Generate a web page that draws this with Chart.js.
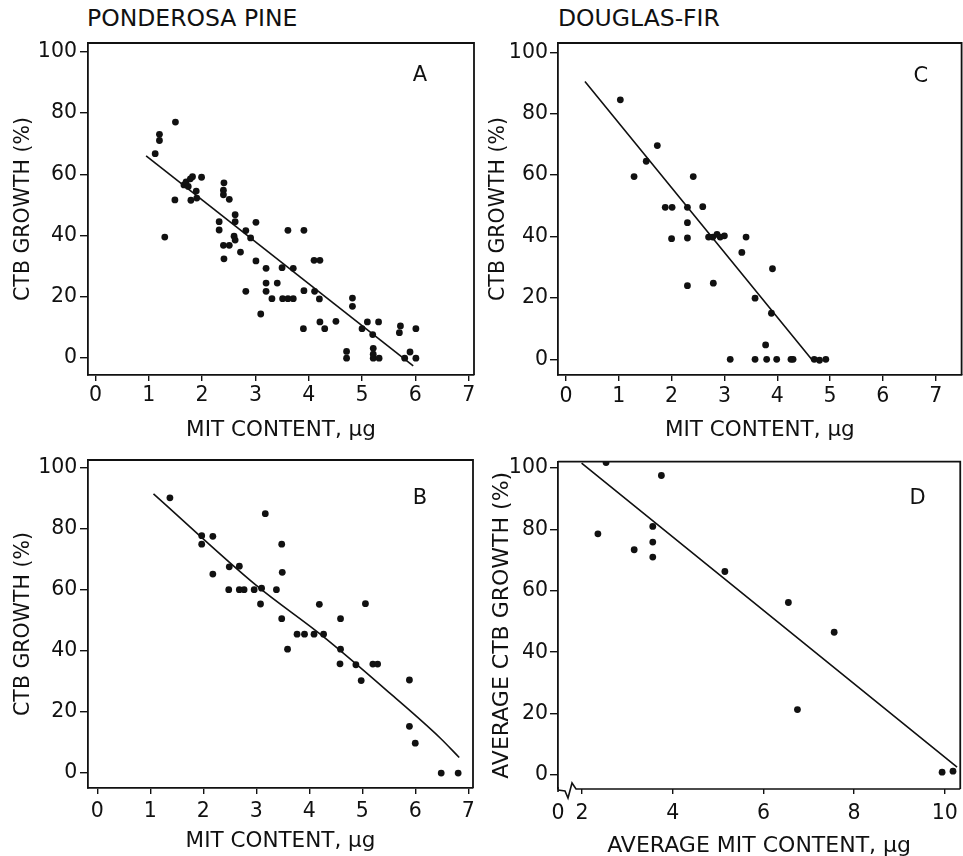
<!DOCTYPE html>
<html><head><meta charset="utf-8">
<script src="https://cdn.jsdelivr.net/npm/chart.js@4.4.1/dist/chart.umd.min.js"></script>
<style>
html,body{margin:0;padding:0;background:#fff;overflow:hidden;width:963px;height:856px;}
canvas{position:absolute;}
.ttl{position:absolute;font-family:"DejaVu Sans",sans-serif;font-size:23.5px;color:#111;line-height:1;white-space:nowrap;}
</style></head><body>
<div class="ttl" style="left:87px;top:7px;">PONDEROSA PINE</div>
<div class="ttl" style="left:558px;top:7px;">DOUGLAS-FIR</div>
<canvas id="cA" width="490" height="450" style="left:0;top:0"></canvas>
<canvas id="cC" width="495" height="450" style="left:470px;top:0"></canvas>
<canvas id="cB" width="490" height="436" style="left:0;top:420px"></canvas>
<canvas id="cD" width="495" height="436" style="left:470px;top:420px"></canvas>
<script>
// ---- data ----
const yTicks = [0, 20, 40, 60, 80, 100];
const xTicks07 = [0, 1, 2, 3, 4, 5, 6, 7];
const xTicksD = [2, 4, 6, 8, 10];
const breakLabelD = '0';

const xA = [1.12,1.2,1.2,1.5,1.3,1.49,1.66,1.70,1.74,1.78,1.82,1.79,1.89,1.9,1.99,2.32,2.32,2.41,2.4,2.4,2.51,2.4,2.41,2.51,2.62,2.62,2.6,2.62,2.72,2.82,2.91,2.82,3.01,3.01,3.2,3.2,3.2,3.1,3.31,3.41,3.5,3.51,3.61,3.71,3.61,3.71,3.91,3.91,3.9,4.1,4.21,4.11,4.2,4.21,4.3,4.51,4.71,4.71,4.82,4.82,5.0,5.1,5.2,5.21,5.21,5.21,5.32,5.31,5.7,5.72,5.9,5.8,6.01,6.01];
const yA = [66.7,73,71,77,39.5,51.6,56.5,57.5,56,58.5,59.2,51.5,54.5,52.2,59,44.5,41.8,57.2,54.8,53.3,51.8,36.8,32.4,36.8,46.8,44.5,39.8,38.5,34.6,41.6,39.2,21.8,44.3,31.7,29.3,24.5,21.8,14.4,19.4,24.5,29.5,19.4,19.4,19.4,41.7,29.3,41.7,22,9.6,31.9,31.9,21.8,19.3,11.8,9.6,12,2.2,0,19.6,16.9,9.6,11.8,7.7,3.2,1.3,0,0,11.8,8.3,10.5,2,0,9.6,0];
const fitAx = [0.95, 5.96];
const fitAy = [66, -2.5];

const xB = [1.37,1.97,1.97,2.18,2.18,2.49,2.68,2.48,2.68,2.77,2.96,3.1,3.08,3.17,3.38,3.48,3.49,3.48,3.59,3.77,3.91,4.09,4.27,4.19,4.59,4.59,4.58,4.88,4.98,5.06,5.2,5.29,5.89,5.89,6.0,6.49,6.81];
const yB = [90.2,77.8,75,77.6,65.2,67.6,67.8,60.1,60.1,60.1,60.1,60.6,55.4,85,60.1,75,65.8,50.6,40.6,45.5,45.5,45.5,45.5,55.3,50.6,40.6,35.8,35.5,30.3,55.5,35.7,35.7,30.5,15.3,9.8,0,0];
const fitBx = [1.06, 3.0, 4.26, 5.52, 6.47, 6.83];
const fitBy = [91.5, 61.5, 44.8, 26.2, 11.5, 5.1];

const xC = [1.03,1.29,1.52,1.73,1.88,2.01,2.0,2.3,2.3,2.3,2.3,2.41,2.59,2.7,2.78,2.86,2.92,3.0,2.79,3.11,3.33,3.41,3.58,3.58,3.78,3.8,3.89,3.91,3.99,4.26,4.3,4.7,4.8,4.92];
const yC = [84.5,59.5,64.5,69.6,49.5,49.5,39.3,49.5,44.5,39.5,24,59.5,49.7,39.8,39.8,40.7,39.8,40.2,24.8,0,34.8,39.8,19.9,0,4.7,0,15,29.5,0,0,0,0,-0.3,0];
const fitCx = [0.36, 4.65];
const fitCy = [90.5, 0];

const xD = [2.35,2.53,3.15,3.56,3.56,3.56,3.75,5.15,6.55,6.75,7.56,9.94,10.18];
const yD = [78.6,101.8,73.4,81.0,75.9,71.0,97.6,66.3,56.2,21.3,46.5,0.9,1.2];
const fitDx = [1.99, 10.27];
const fitDy = [101.6, 2.5];

// ---- helpers ----
const INK = '#111';
const FONT = '"DejaVu Sans", "Liberation Sans", sans-serif';
const pts = (xs, ys) => xs.map((x, i) => ({x, y: ys[i]}));

const framePlugin = {
  id: 'frame',
  afterDraw(chart, args, o) {
    const {ctx, chartArea: a} = chart;
    ctx.save();
    ctx.strokeStyle = INK; ctx.lineWidth = 1.8;
    ctx.beginPath();
    ctx.moveTo(a.left, a.top); ctx.lineTo(a.right, a.top); ctx.lineTo(a.right, a.bottom);
    ctx.stroke();
    if (o.brk) {
      const x0 = a.left, y0 = a.bottom;
      ctx.lineWidth = 1.6;
      ctx.beginPath();
      ctx.moveTo(x0, y0 + 1); ctx.lineTo(x0 + 7, y0 + 2); ctx.lineTo(x0 + 10, y0 + 9);
      ctx.lineTo(x0 + 14, y0 - 6); ctx.lineTo(x0 + 18, y0); ctx.lineTo(a.right, y0);
      ctx.stroke();
      ctx.beginPath(); ctx.moveTo(x0, a.bottom - 2); ctx.lineTo(x0, a.bottom + 3); ctx.stroke();
    }
    ctx.font = '21px ' + FONT; ctx.fillStyle = INK;
    ctx.textAlign = 'center'; ctx.textBaseline = 'middle';
    ctx.fillText(o.letter, a.left + o.fx * (a.right - a.left), a.top + o.fy * (a.bottom - a.top));
    ctx.restore();
  }
};

function makeChart(id, c) {
  const xmin = c.xmin;
  return new Chart(document.getElementById(id), {
    type: 'scatter',
    data: {
      datasets: [
        {data: pts(c.xs, c.ys), pointRadius: 3.4, pointHoverRadius: 3.4, backgroundColor: INK, borderWidth: 0, clip: 0},
        {data: pts(c.fx, c.fy), showLine: true, pointRadius: 0, borderColor: INK, borderWidth: 1.6,
         cubicInterpolationMode: 'monotone', tension: 0.4, fill: false}
      ]
    },
    options: {
      responsive: false, animation: false, devicePixelRatio: 1,
      layout: {padding: c.pad},
      plugins: {legend: {display: false}, tooltip: {enabled: false},
                frame: {letter: c.letter, fx: c.lx, fy: c.ly, brk: !!c.brk}},
      scales: {
        x: {
          type: 'linear', min: c.xmin, max: c.xmax,
          afterBuildTicks: s => { s.ticks = c.xticks.map(v => ({value: v})); },
          afterFit: s => { s.height = c.xh; },
          ticks: {font: {family: FONT, size: 20.5}, color: INK, padding: c.xtp, autoSkip: false, maxRotation: 0,
                  callback: v => (c.brk && v === xmin) ? breakLabelD : String(v)},
          grid: {display: true, drawOnChartArea: false, drawTicks: true, tickLength: c.xtl || 6,
                 color: INK, lineWidth: 1.4,
                 tickColor: ctx => (c.brk && ctx.tick && ctx.tick.value === xmin) ? 'rgba(0,0,0,0)' : INK},
          border: {display: !c.brk, color: INK, width: 1.8},
          title: {display: true, text: c.xtitle, color: INK,
                  font: {family: FONT, size: c.xts, lineHeight: 1}, padding: {top: 0, bottom: c.xtpad}}
        },
        y: {
          type: 'linear', min: c.ymin, max: c.ymax,
          afterBuildTicks: s => { s.ticks = yTicks.map(v => ({value: v})); },
          afterFit: s => { s.width = 88; },
          ticks: {font: {family: FONT, size: 20.5}, color: INK, padding: c.ytp, autoSkip: false,
                  callback: v => String(v)},
          grid: {display: true, drawOnChartArea: false, drawTicks: true, tickLength: 8, color: INK, lineWidth: 1.4},
          border: {display: true, color: INK, width: 1.8},
          title: {display: true, text: c.ytitle, color: INK,
                  font: {family: FONT, size: c.yts, lineHeight: 1}, padding: {top: c.ytpad, bottom: 0}}
        }
      }
    },
    plugins: [framePlugin]
  });
}

makeChart('cA', {xs: xA, ys: yA, fx: fitAx, fy: fitAy, xmin: -0.14, xmax: 7.10, ymin: -5.5, ymax: 102.8,
  xticks: xTicks07, pad: {left: 0, top: 43, right: 16, bottom: 5}, xh: 70, xtp: 2.7, xtpad: 4.25, ytp: 3,
  xtitle: 'MIT CONTENT, \u03bcg', xts: 21.5, ytitle: 'CTB GROWTH (%)', yts: 20.5, ytpad: 13.25,
  letter: 'A', lx: 0.86, ly: 0.099});

makeChart('cC', {xs: xC, ys: yC, fx: fitCx, fy: fitCy, xmin: -0.15, xmax: 7.49, ymin: -5.1, ymax: 103,
  xticks: xTicks07, pad: {left: 0, top: 43, right: 0, bottom: 5}, xh: 70, xtp: 3.2, xtpad: 4.25, ytp: 2,
  xtitle: 'MIT CONTENT, \u03bcg', xts: 21.5, ytitle: 'CTB GROWTH (%)', yts: 20.5, ytpad: 18.75,
  letter: 'C', lx: 0.899, ly: 0.102});

makeChart('cB', {xs: xB, ys: yB, fx: fitBx, fy: fitBy, xmin: -0.176, xmax: 7.09, ymin: -4.9, ymax: 102.6,
  xticks: xTicks07, pad: {left: 0, top: 40, right: 17, bottom: 2}, xh: 66, xtp: 5.4, xtpad: 2.25, ytp: 2.7,
  xtitle: 'MIT CONTENT, \u03bcg', xts: 21.5, ytitle: 'CTB GROWTH (%)', yts: 20.5, ytpad: 13.25,
  letter: 'B', lx: 0.862, ly: 0.119});

makeChart('cD', {xs: xD, ys: yD, fx: fitDx, fy: fitDy, xmin: 1.47, xmax: 10.34, ymin: -4.6, ymax: 102.1,
  xticks: [1.47].concat(xTicksD), brk: true, pad: {left: 0, top: 41.7, right: 0, bottom: 0}, xh: 67, xtl: 5,
  xtp: 7, xtpad: -1, ytp: 2,
  xtitle: 'AVERAGE MIT CONTENT, \u03bcg', xts: 22, ytitle: 'AVERAGE CTB GROWTH (%)', yts: 22, ytpad: 21,
  letter: 'D', lx: 0.894, ly: 0.114});
</script>
</body></html>
